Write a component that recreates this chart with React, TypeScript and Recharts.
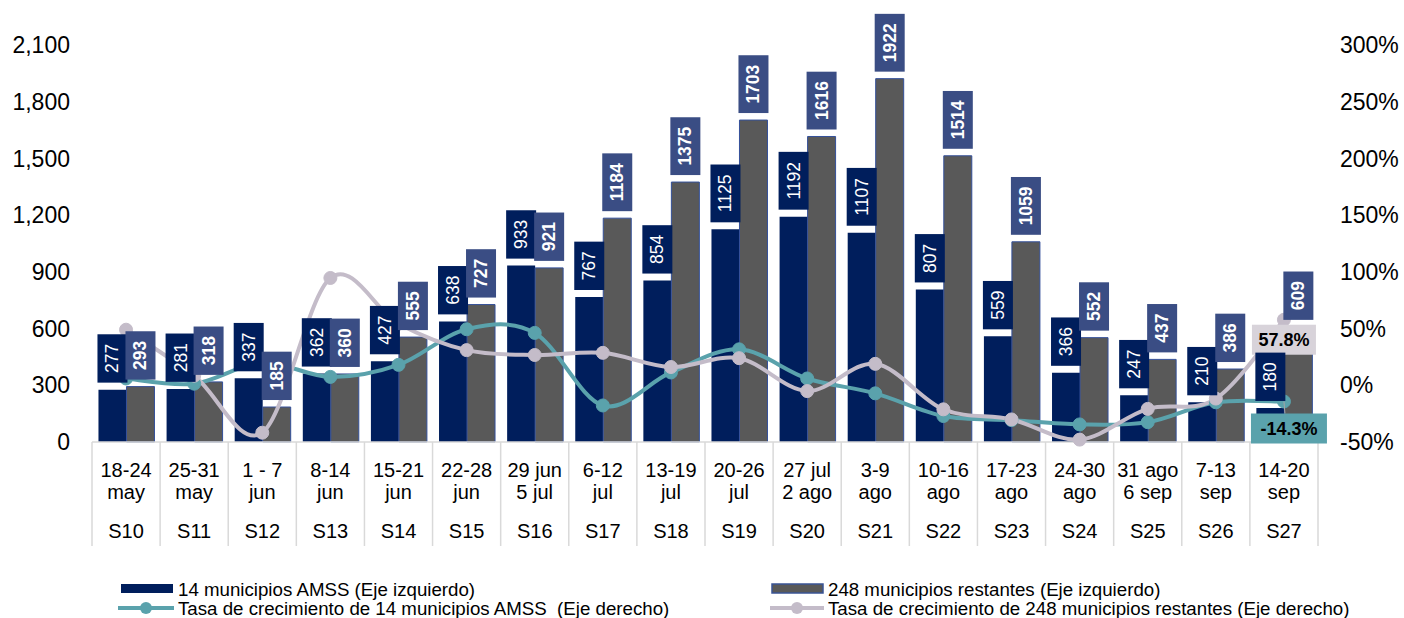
import { Bar, ComposedChart, LabelList, Line, XAxis, YAxis } from "recharts"

const weeks = ["S10", "S11", "S12", "S13", "S14", "S15", "S16", "S17", "S18", "S19", "S20", "S21", "S22", "S23", "S24", "S25", "S26", "S27"]
const rangeTop = ["18-24", "25-31", "1 - 7", "8-14", "15-21", "22-28", "29 jun", "6-12", "13-19", "20-26", "27 jul", "3-9", "10-16", "17-23", "24-30", "31 ago", "7-13", "14-20"]
const rangeBottom = ["may", "may", "jun", "jun", "jun", "jun", "5 jul", "jul", "jul", "jul", "2 ago", "ago", "ago", "ago", "ago", "6 sep", "sep", "sep"]

const amss = [277, 281, 337, 362, 427, 638, 933, 767, 854, 1125, 1192, 1107, 807, 559, 366, 247, 210, 180]
const resto = [293, 318, 185, 360, 555, 727, 921, 1184, 1375, 1703, 1616, 1922, 1514, 1059, 552, 437, 386, 609]
const tasaAmss = [6, 1.4, 19.9, 7.4, 18.0, 49.4, 46.2, -17.8, 11.3, 31.7, 6.0, -7.1, -27.1, -30.7, -34.5, -32.5, -15.0, -14.3]
const tasaResto = [49, 8.5, -41.8, 94.6, 54.2, 31.0, 26.7, 28.6, 16.1, 23.9, -5.1, 18.9, -21.2, -30.1, -47.9, -20.8, -11.7, 57.8]

const leftTicks = [0, 300, 600, 900, 1200, 1500, 1800, 2100]
const rightTicks = [-50, 0, 50, 100, 150, 200, 250, 300]

const data = weeks.map((w, i) => ({
  week: w,
  amss: amss[i],
  resto: resto[i],
  tasaAmss: tasaAmss[i],
  tasaResto: tasaResto[i],
}))

const NAVY = "#001e5c"
const GRAY = "#595959"
const GRAY_BOX = "#3a4d84"
const TEAL = "#5aa2ac"
const LILAC = "#c4bcc9"
const FONT = "'Liberation Sans', Arial, sans-serif"

const W = 1404
const H = 618
const PLOT_LEFT = 92
const PLOT_RIGHT = 1318
const BAND = (PLOT_RIGHT - PLOT_LEFT) / weeks.length

// smooth line close to Excel's smoothing (catmull-rom)
function smoothCurve(context: any) {
  let pts: number[][] = []
  return {
    areaStart() {},
    areaEnd() {},
    lineStart() {
      pts = []
    },
    point(x: number, y: number) {
      pts.push([+x, +y])
    },
    lineEnd() {
      if (!pts.length) return
      context.moveTo(pts[0][0], pts[0][1])
      for (let i = 0; i < pts.length - 1; i++) {
        const p0 = pts[i - 1] || pts[i]
        const p1 = pts[i]
        const p2 = pts[i + 1]
        const p3 = pts[i + 2] || p2
        context.bezierCurveTo(
          p1[0] + (p2[0] - p0[0]) / 6,
          p1[1] + (p2[1] - p0[1]) / 6,
          p2[0] - (p3[0] - p1[0]) / 6,
          p2[1] - (p3[1] - p1[1]) / 6,
          p2[0],
          p2[1]
        )
      }
    },
  }
}

function CategoryTick(props: any) {
  const { x, y, payload } = props
  const i = weeks.indexOf(payload.value)
  const left = x - BAND / 2
  return (
    <g fontFamily={FONT} fontSize={20} fill="#000">
      <line x1={left} x2={left} y1={y} y2={y + 104} stroke="#d9d9d9" strokeWidth={1.5} />
      {i === weeks.length - 1 && (
        <line x1={left + BAND} x2={left + BAND} y1={y} y2={y + 104} stroke="#d9d9d9" strokeWidth={1.5} />
      )}
      <text x={x} y={y + 35} textAnchor="middle">{rangeTop[i]}</text>
      <text x={x} y={y + 57} textAnchor="middle">{rangeBottom[i]}</text>
      <text x={x} y={y + 96} textAnchor="middle">{payload.value}</text>
    </g>
  )
}

function barBox(fill: string, bold: boolean) {
  return (props: any) => {
    const x = Number(props.x)
    const y = Number(props.y)
    const width = Number(props.width)
    const s = String(props.value)
    const h = s.length * 0.556 * 17 + 20
    const cx = x + width / 2
    const bottom = y - 7
    const cy = bottom - h / 2
    return (
      <g>
        <rect x={cx - 15} y={bottom - h} width={30} height={h} fill={fill} />
        <text
          x={cx}
          y={cy}
          transform={`rotate(-90 ${cx} ${cy})`}
          textAnchor="middle"
          dominantBaseline="central"
          fill="#fff"
          fontFamily={FONT}
          fontSize={17.5}
          fontWeight={bold ? 700 : 400}
        >
          {s}
        </text>
      </g>
    )
  }
}

function lastLabel(fill: string, dx: number, dy: number, w: number, leader: boolean) {
  return (props: any) => {
    if (props.index !== weeks.length - 1) return null
    const x = Number(props.x)
    const y = Number(props.y)
    const cx = x + dx
    const cy = y + dy
    return (
      <g>
        {leader && <line x1={x} y1={y} x2={cx - 4} y2={cy - 15} stroke="#a6a6a6" strokeWidth={1} />}
        <rect x={cx - w / 2} y={cy - 15} width={w} height={30} fill={fill} />
        <text
          x={cx}
          y={cy}
          textAnchor="middle"
          dominantBaseline="central"
          fontFamily={FONT}
          fontSize={18}
          fontWeight={700}
          fill="#000"
        >
          {`${props.value}%`}
        </text>
      </g>
    )
  }
}

function Legend() {
  const txt = { fontFamily: FONT, fontSize: 18.7, fill: "#000" }
  return (
    <svg width={W} height={H} style={{ position: "absolute", left: 0, top: 0, pointerEvents: "none" }}>
      <rect x={121} y={584} width={52} height={9} fill={NAVY} />
      <text x={178} y={589} dominantBaseline="central" {...txt}>14 municipios AMSS (Eje izquierdo)</text>
      <line x1={118} x2={174} y1={608} y2={608} stroke={TEAL} strokeWidth={4} />
      <circle cx={146} cy={608} r={6} fill={TEAL} />
      <text x={178} y={608} dominantBaseline="central" {...txt} xmlSpace="preserve">Tasa de crecimiento de 14 municipios AMSS  (Eje derecho)</text>
      <rect x={772} y={584} width={51} height={9} fill={GRAY} stroke="#3a5495" strokeWidth={1.5} />
      <text x={828} y={589} dominantBaseline="central" {...txt}>248 municipios restantes (Eje izquierdo)</text>
      <line x1={770} x2={824} y1={608} y2={608} stroke={LILAC} strokeWidth={4} />
      <circle cx={797} cy={608} r={6} fill={LILAC} />
      <text x={828} y={608} dominantBaseline="central" {...txt}>Tasa de crecimiento de 248 municipios restantes (Eje derecho)</text>
    </svg>
  )
}

export default function App() {
  const tickStyle = { fontFamily: FONT, fontSize: 23, fill: "#000" }
  return (
    <div style={{ position: "absolute", left: 0, top: 0, width: W, height: H, background: "#fff" }}>
      <ComposedChart
        width={W}
        height={H}
        data={data}
        margin={{ top: 45, right: 0, bottom: 66, left: 0 }}
        barCategoryGap="9.5%"
        barGap={0}
      >
        <XAxis
          dataKey="week"
          height={110}
          interval={0}
          tickLine={false}
          tickSize={0}
          tickMargin={0}
          axisLine={{ stroke: "#d9d9d9", strokeWidth: 1.5 }}
          tick={<CategoryTick />}
        />
        <XAxis xAxisId="lbl" dataKey="week" hide />
        <YAxis
          yAxisId="left"
          width={92}
          domain={[0, 2100]}
          ticks={leftTicks}
          axisLine={false}
          tickLine={false}
          tickSize={0}
          tickMargin={22}
          tick={tickStyle}
          tickFormatter={(v: number) => v.toLocaleString("en-US")}
        />
        <YAxis
          yAxisId="right"
          orientation="right"
          width={86}
          domain={[-50, 300]}
          ticks={rightTicks}
          axisLine={false}
          tickLine={false}
          tickSize={0}
          tickMargin={22}
          tick={{ ...tickStyle, textAnchor: "start" }}
          tickFormatter={(v: number) => `${v}%`}
        />
        <Bar yAxisId="left" dataKey="amss" fill={NAVY} isAnimationActive={false} />
        <Bar yAxisId="left" dataKey="resto" fill={GRAY} stroke="#34509a" strokeWidth={1} isAnimationActive={false} />
        <Line
          yAxisId="right"
          dataKey="tasaAmss"
          type={smoothCurve as any}
          stroke={TEAL}
          strokeWidth={4}
          dot={{ r: 6.5, fill: TEAL, stroke: TEAL, strokeWidth: 1 }}
          activeDot={false}
          isAnimationActive={false}
          label={lastLabel(TEAL, 5, 27, 76, true)}
        />
        <Line
          yAxisId="right"
          dataKey="tasaResto"
          type={smoothCurve as any}
          stroke={LILAC}
          strokeWidth={4}
          dot={{ r: 6.5, fill: LILAC, stroke: LILAC, strokeWidth: 1 }}
          activeDot={false}
          isAnimationActive={false}
          label={lastLabel("#d8d3da", 0, 20, 64, false)}
        />
        <Bar xAxisId="lbl" yAxisId="left" dataKey="amss" fill="none" isAnimationActive={false}>
          <LabelList dataKey="amss" content={barBox(NAVY, false)} />
        </Bar>
        <Bar xAxisId="lbl" yAxisId="left" dataKey="resto" fill="none" isAnimationActive={false}>
          <LabelList dataKey="resto" content={barBox(GRAY_BOX, true)} />
        </Bar>
      </ComposedChart>
      <Legend />
    </div>
  )
}
